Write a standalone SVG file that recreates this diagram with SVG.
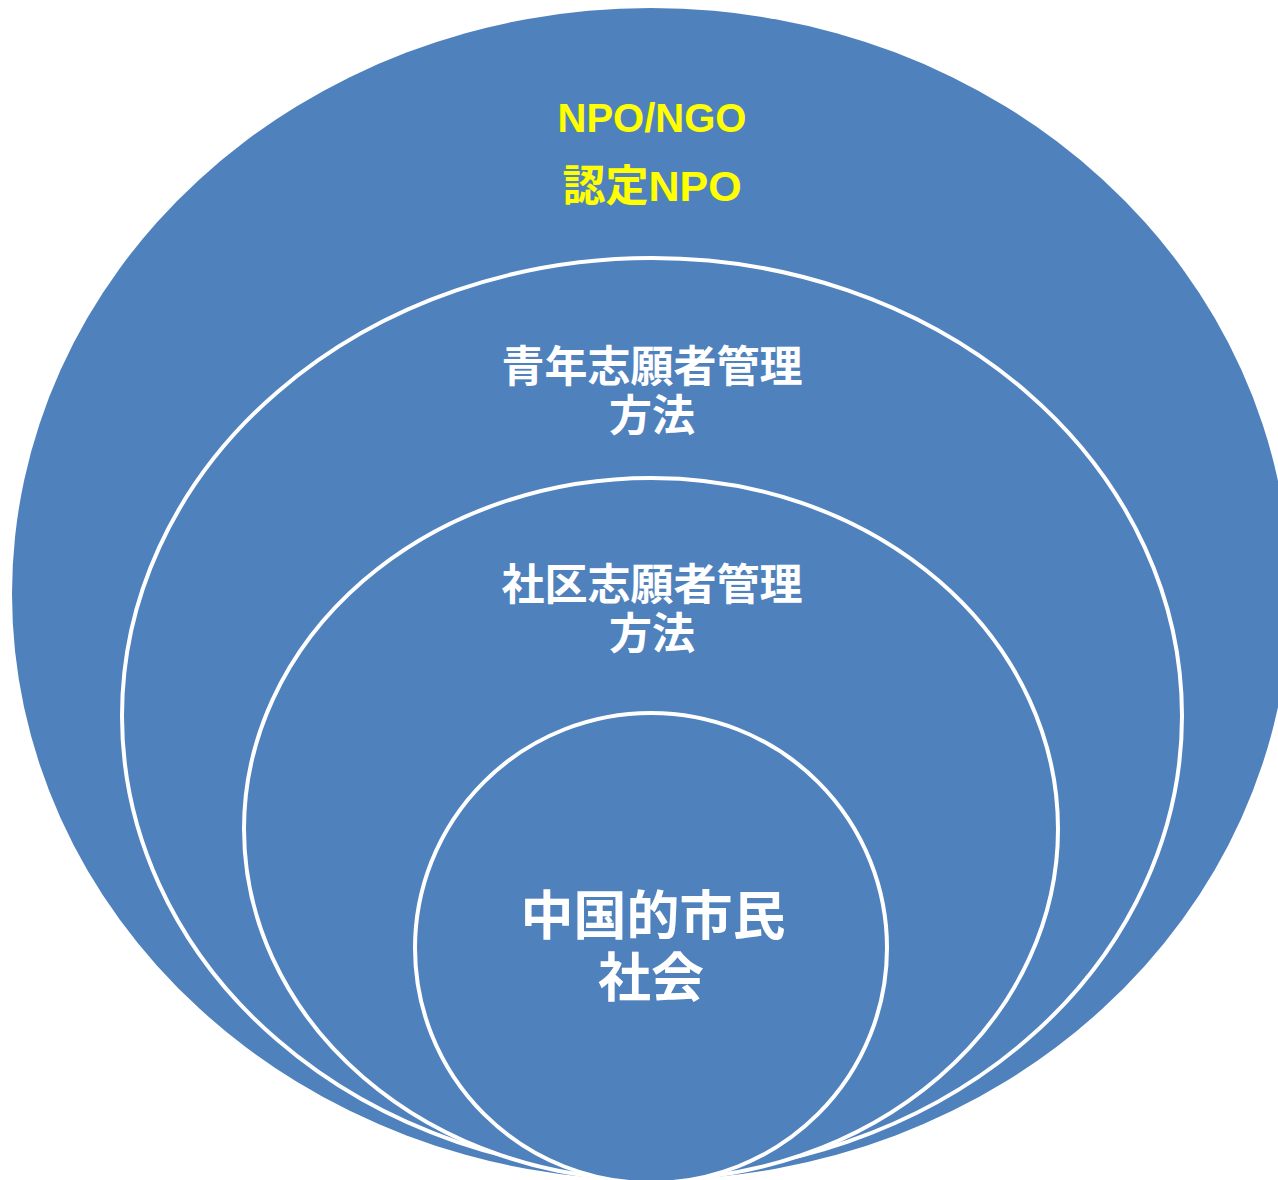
<svg xmlns="http://www.w3.org/2000/svg" width="1278" height="1180" viewBox="0 0 1278 1180">
<style>
.ring{fill:#4F81BD;stroke:#FFFFFF;stroke-width:4}
.lbl{font-family:"Liberation Sans","Noto Sans CJK JP",sans-serif;font-weight:bold;text-anchor:middle;fill:#FFFFFF}
.yel{fill:#FFFF00}
</style>
<rect width="1278" height="1180" fill="#FFFFFF"/>
<g id="outer">
<ellipse cx="651" cy="594" rx="639" ry="586" fill="#4F81BD"/>
<text class="lbl yel" x="652" y="132" font-size="40">NPO/NGO</text>
<text class="lbl yel" x="652" y="201" font-size="43">認定NPO</text>
</g>
<g id="youth">
<ellipse class="ring" cx="652" cy="716" rx="530" ry="458"/>
<text class="lbl" x="652" y="382" font-size="43">青年志願者管理</text>
<text class="lbl" x="652" y="431" font-size="43">方法</text>
</g>
<g id="community">
<ellipse class="ring" cx="651" cy="829" rx="407" ry="351"/>
<text class="lbl" x="652" y="600" font-size="43">社区志願者管理</text>
<text class="lbl" x="652" y="649" font-size="43">方法</text>
</g>
<g id="core">
<ellipse class="ring" cx="651" cy="948" rx="236" ry="235"/>
<text class="lbl" x="653" y="935" font-size="53">中国的市民</text>
<text class="lbl" x="651" y="997" font-size="53">社会</text>
</g>
<g id="connectors"></g>
</svg>
